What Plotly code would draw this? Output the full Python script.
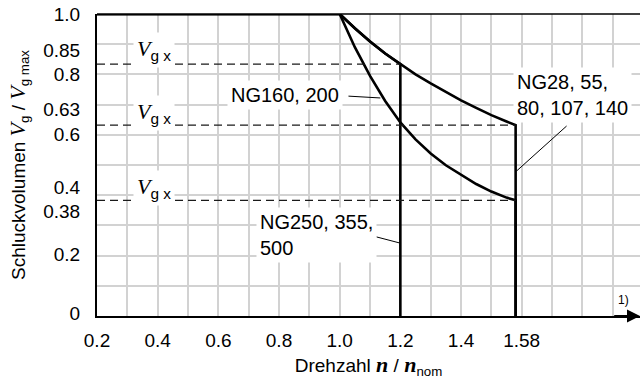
import plotly.graph_objects as go

# ---------------- data ----------------
n_start = 0.2
n_curve = [1.0, 1.05, 1.1, 1.15, 1.2, 1.25, 1.3, 1.35, 1.4, 1.45, 1.5, 1.55, 1.58]
vg_ng28 = [1.0, 0.953, 0.909, 0.869, 0.834, 0.80, 0.770, 0.741, 0.714, 0.689, 0.665, 0.644, 0.632]
vg_ng160 = [1.0, 0.89, 0.795, 0.712, 0.641, 0.585, 0.538, 0.499, 0.467, 0.437, 0.412, 0.392, 0.383]

series_names = ["NG28, 55,<br>80, 107, 140", "NG160, 200", "NG250, 355,<br>500"]
series_curve = [vg_ng28, vg_ng160, vg_ng28]
series_nmax = [1.58, 1.58, 1.2]

ytick_text = ["1.0", "0.85", "0.8", "0.63", "0.6", "0.4", "0.38", "0.2", "0"]
ytick_pos = [1.0, 0.879, 0.80, 0.683, 0.601, 0.425, 0.347, 0.205, 0.01]
xtick_text = ["0.2", "0.4", "0.6", "0.8", "1.0", "1.2", "1.4", "1.58"]
xtick_pos = [0.2, 0.4, 0.6, 0.8, 1.0, 1.2, 1.4, 1.6]
grid_x = [round(0.2 + 0.1 * i, 1) for i in range(18)]
grid_y = [round(0.1 * i, 1) for i in range(11)]

SANS = "Liberation Sans"
SERIF = "Liberation Serif"

fig = go.Figure()

vgx_levels = []
for vals, nmax in zip(series_curve, series_nmax):
    xs = [n_start]
    ys = [1.0]
    for n, v in zip(n_curve, vals):
        if n <= nmax + 1e-9:
            xs.append(n)
            ys.append(v)
    vgx_levels.append((ys[-1], nmax))
    xs.append(nmax)
    ys.append(0.0)
    fig.add_trace(go.Scatter(x=xs, y=ys, mode="lines",
                             line=dict(color="black", width=2.6),
                             hoverinfo="skip", showlegend=False))

# dashed Vg x levels
for v, nmax in vgx_levels:
    fig.add_trace(go.Scatter(x=[n_start, nmax], y=[v, v], mode="lines",
                             line=dict(color="#1a1a1a", width=1.4, dash="8px,5px"),
                             hoverinfo="skip", showlegend=False))

# invisible trace for label axis
fig.add_trace(go.Scatter(x=[n_start], y=[0], yaxis="y2", mode="markers",
                         marker=dict(opacity=0), hoverinfo="skip", showlegend=False))

xt_text = []
for g in grid_x:
    lbl = ""
    for p, t in zip(xtick_pos, xtick_text):
        if abs(p - g) < 1e-6:
            lbl = t
    xt_text.append(lbl)

anns = []
# Vg x labels
vgx_label_y = [0.881, 0.672, 0.424]
for yv in vgx_label_y:
    anns.append(dict(x=0.388, y=yv, xref="x", yref="y",
                     text="<i>V</i><sub><span style='font-family:Liberation Sans'>g x</span></sub>",
                     showarrow=False, bgcolor="white", borderpad=3,
                     font=dict(family=SERIF, size=22, color="black")))

label_pos = [(1.768, 0.732), (0.821, 0.732), (0.923, 0.268)]
for name, (lx, ly) in zip(series_names, label_pos):
    anns.append(dict(x=lx, y=ly, xref="x", yref="y", text=name, align="left",
                     showarrow=False, bgcolor="white", borderpad=3,
                     font=dict(family=SANS, size=20, color="black")))

anns.append(dict(x=1.937, y=0.053, xref="x", yref="y", text="1)", showarrow=False,
                 font=dict(family=SANS, size=12, color="black")))

# arrow at end of n axis
anns.append(dict(x=1.99, y=0, ax=1.9, ay=0, xref="x", yref="y", axref="x", ayref="y",
                 text="", showarrow=True, arrowhead=2, arrowsize=1.3, arrowwidth=2,
                 arrowcolor="black", standoff=0))

# leader lines
leaders = [((1.748, 0.629), (1.583, 0.480)),
           ((1.029, 0.728), (1.134, 0.722)),
           ((1.121, 0.262), (1.197, 0.242))]
shapes = []
for (x0, y0), (x1, y1) in leaders:
    shapes.append(dict(type="line", xref="x", yref="y", x0=x0, y0=y0, x1=x1, y1=y1,
                       line=dict(color="black", width=1)))
shapes.append(dict(type="line", xref="paper", yref="paper", x0=0, x1=1, y0=1, y1=1,
                   line=dict(color="black", width=1.3)))

nspan = "<b><i><span style='font-family:Liberation Serif;font-size:22px'>n</span></i></b>"
vspan = "<i><span style='font-family:Liberation Serif;font-size:22px'>V</span></i>"

fig.update_layout(
    width=640, height=382,
    margin=dict(l=97, r=0, t=14, b=66),
    paper_bgcolor="white", plot_bgcolor="white",
    font=dict(family=SANS, size=19, color="black"),
    showlegend=False,
    xaxis=dict(range=[0.2, 1.99], tickmode="array", tickvals=grid_x, ticktext=xt_text,
               showgrid=True, gridcolor="#d2d2d2", gridwidth=1.5,
               showline=True, linecolor="black", linewidth=2,
               ticks="outside", ticklen=6, tickcolor="rgba(0,0,0,0)",
               tickfont=dict(family=SANS, size=19), zeroline=False,
               title=dict(text="Drehzahl " + nspan + " / " + nspan + "<sub>nom</sub>",
                          font=dict(family=SANS, size=19), standoff=9)),
    yaxis=dict(range=[0, 1], tickmode="array", tickvals=grid_y, showticklabels=False,
               showgrid=True, gridcolor="#d2d2d2", gridwidth=1.5,
               showline=True, linecolor="black", linewidth=2, zeroline=False, ticks=""),
    yaxis2=dict(range=[0, 1], overlaying="y", side="left", tickmode="array",
                tickvals=ytick_pos, ticktext=ytick_text, showgrid=False, zeroline=False,
                showline=False, ticks="outside", ticklen=12, tickcolor="rgba(0,0,0,0)",
                tickfont=dict(family=SANS, size=19),
                title=dict(text="Schluckvolumen " + vspan + "<sub>g</sub> / " + vspan + "<sub>g max</sub>",
                           font=dict(family=SANS, size=19), standoff=12)),
    annotations=anns, shapes=shapes,
)

fig.write_html("out.html")
